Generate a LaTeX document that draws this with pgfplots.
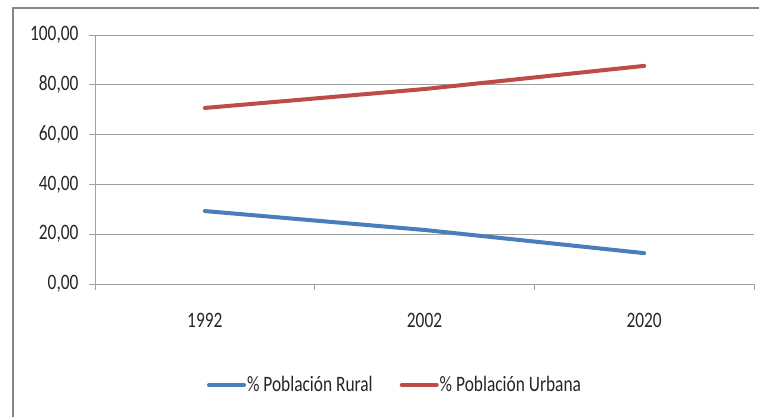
\documentclass[border=0pt]{standalone}
\usepackage{fontspec}
\setmainfont{Carlito}[FakeStretch=0.79]
\usepackage{pgfplots}
\pgfplotsset{compat=1.18}
\definecolor{rural}{HTML}{4A7EBB}
\definecolor{urbana}{HTML}{BE4B48}
\definecolor{gridc}{HTML}{A0A0A0}
\definecolor{framec}{HTML}{868686}
\begin{document}
\begin{tikzpicture}[x=1pt,y=1pt]
\useasboundingbox (0,0) rectangle (759,416);
\fill[white] (0,0) rectangle (759,416);
\draw[framec, line width=2pt] (13,-2) -- (13,408) -- (762,408);
\begin{axis}[
  at={(95pt,132pt)}, anchor=south west,
  scale only axis, width=659pt, height=249pt,
  xmin=-0.5, xmax=2.5, ymin=0, ymax=100,
  axis x line*=bottom, axis y line*=left,
  axis line style={gridc, line width=0.9pt, -},
  ytick={0,20,...,100},
  ymajorgrids, grid style={gridc, line width=0.9pt},
  tick align=outside, major tick length=6pt,
  tick style={gridc, line width=0.9pt},
  xtick={-0.5,0.5,1.5,2.5}, xticklabels={},
  extra x ticks={0,1,2}, extra x tick labels={1992,2002,2020},
  extra x tick style={major tick length=0pt, xticklabel style={yshift=-26pt}},
  /pgf/number format/assume math mode=true,
  yticklabel style={/pgf/number format/.cd, fixed, fixed zerofill, precision=2, use comma, /tikz/.cd, xshift=-7pt},
  ticklabel style={font=\fontsize{22}{26}\selectfont, text=black!85},
  legend style={at={(0.4545,-0.406)}, anchor=center, draw=none, fill=none,
    legend columns=2, font=\fontsize{22}{26}\selectfont, text=black!85,
    /tikz/every even column/.append style={column sep=26pt},
    nodes={inner xsep=1pt}},
  legend image code/.code={\draw[#1] (0pt,0pt) -- (35pt,0pt);},
  every axis plot/.append style={line width=4pt, line cap=round},
]
\addplot[rural] coordinates {(0,29.3) (1,21.7) (2,12.4)};
\addlegendentry{\% Población Rural}
\addplot[urbana] coordinates {(0,70.7) (1,78.3) (2,87.6)};
\addlegendentry{\% Población Urbana}
\end{axis}
\end{tikzpicture}
\end{document}
